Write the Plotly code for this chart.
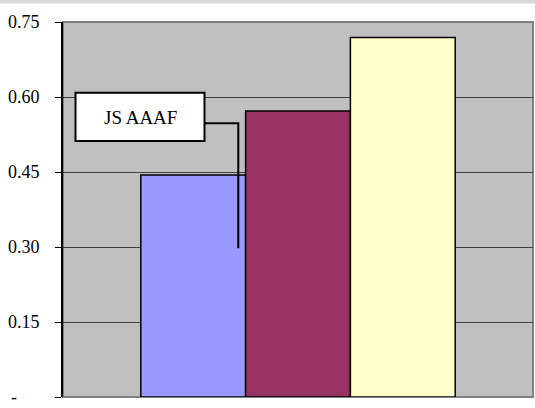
import plotly.graph_objects as go

categories = ["A"]
series_names = ["S1", "S2", "S3"]
series_values = [[0.444], [0.572], [0.719]]
series_colors = ["#9999FF", "#993366", "#FFFFCC"]
tick_vals = [0, 0.15, 0.30, 0.45, 0.60, 0.75]
tick_text = ["-\u00a0\u00a0\u00a0\u00a0\u00a0", "0.15", "0.30", "0.45", "0.60", "0.75"]
label_text = "JS AAAF"

W, H = 535, 408
L, R, T, B = 63, 2, 22, 11
pw, ph = W - L - R, H - T - B

def px_x(x):
    return (x - L) / pw

def px_y_paper(y):
    return (H - B - y) / ph

def px_y_data(y):
    return (H - B - y) / ph * 0.75

fig = go.Figure()
for name, vals, col in zip(series_names, series_values, series_colors):
    fig.add_trace(go.Bar(x=categories, y=vals, name=name,
                         marker=dict(color=col, line=dict(color="#000000", width=1.5))))

tick_font = dict(family="Liberation Serif", size=18, color="#000000")
label_font = dict(family="Liberation Serif", size=19, color="#000000")

shapes = [
    dict(type="rect", xref="paper", yref="paper", x0=px_x(0), x1=px_x(W), y0=px_y_paper(3.5), y1=px_y_paper(0),
         fillcolor="#D9D9D9", line=dict(width=0), layer="above"),
    dict(type="rect", xref="paper", yref="paper", x0=0, x1=1, y0=0, y1=1,
         line=dict(color="#808080", width=2), layer="below"),
    dict(type="rect", xref="paper", yref="y", x0=px_x(75.5), x1=px_x(204.5), y0=px_y_data(141), y1=px_y_data(92.7),
         fillcolor="#FFFFFF", line=dict(color="#000000", width=2), layer="above"),
    dict(type="path", xref="paper", yref="y",
         path="M {} {} L {} {} L {} {}".format(px_x(204.5), px_y_data(123.3), px_x(238.3), px_y_data(123.3),
                                              px_x(238.3), px_y_data(248.3)),
         line=dict(color="#000000", width=2), layer="above"),
]

fig.update_layout(
    width=W, height=H,
    margin=dict(l=L, r=R, t=T, b=B, pad=0),
    paper_bgcolor="#FFFFFF", plot_bgcolor="#C0C0C0",
    barmode="group", bargap=0.331, bargroupgap=0,
    showlegend=False,
    font=tick_font,
    shapes=shapes,
    annotations=[dict(text=label_text, xref="paper", yref="y",
                      x=px_x(140), y=px_y_data(117), showarrow=False,
                      font=label_font, xanchor="center", yanchor="middle")],
    xaxis=dict(showticklabels=False, showgrid=False, zeroline=False, showline=False,
               ticks="", range=[-0.5, 0.5]),
    yaxis=dict(range=[0, 0.75], tickvals=tick_vals, ticktext=tick_text,
               showgrid=True, gridcolor="#404040", gridwidth=1, zeroline=False,
               showline=True, linecolor="#000000", linewidth=2,
               ticks="outside", ticklen=6, tickcolor="#000000", tickwidth=1,
               ticklabelstandoff=12, tickfont=tick_font),
)

fig.write_html("out.html")
